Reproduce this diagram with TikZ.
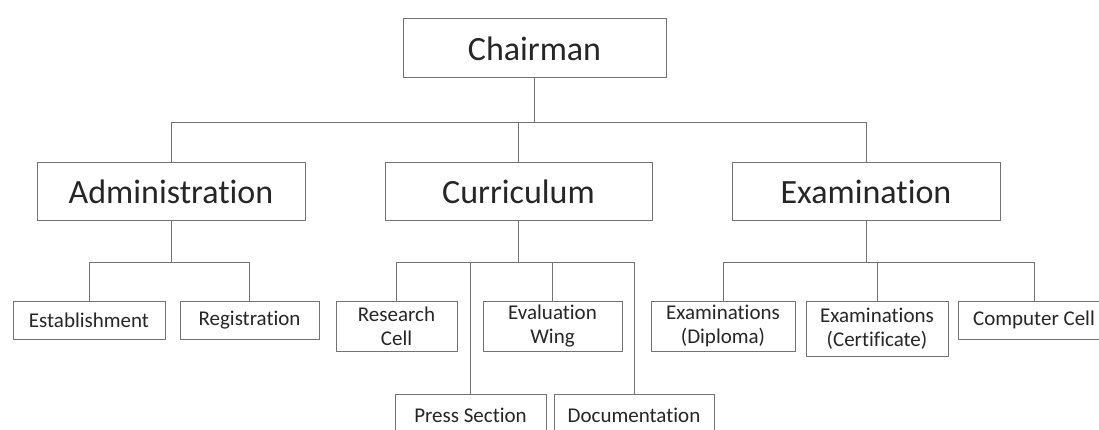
\documentclass[tikz,border=0pt]{standalone}
\usepackage{fontspec}
\setmainfont{Carlito}[Ligatures={NoCommon,NoRequired,NoContextual}]
\definecolor{linegray}{gray}{0.45}
\definecolor{textgray}{gray}{0.15}
\tikzset{
  unit/.style={draw=linegray, line width=1pt, rectangle, inner sep=0pt,
    text=textgray, align=center},
  bigunit/.style={unit, font=\fontsize{34}{40}\selectfont, minimum height=58pt},
  smallunit/.style={unit, font=\fontsize{21}{24}\selectfont},
  link/.style={draw=linegray, line width=1pt}
}
\begin{document}
\begin{tikzpicture}[x=1pt,y=-1pt]
\useasboundingbox (0,0) rectangle (1099,430);
\clip (0,0) rectangle (1099,430);
\fill[white] (0,0) rectangle (1099,430);

% top level
\node[bigunit, minimum width=263pt, minimum height=59pt] (chair) at (534.5,48.5) {Chairman};

% departments
\node[bigunit, minimum width=268pt] (admin) at (171,192) {Administration};
\node[bigunit, minimum width=267pt] (curr) at (518.5,192) {Curriculum};
\node[bigunit, minimum width=268pt] (exam) at (866,192) {Examination};

% sections under Administration
\node[smallunit, minimum width=152pt, minimum height=38pt] (estab) at (89,320) {Establishment};
\node[smallunit, minimum width=139pt, minimum height=38pt] (reg) at (249.5,320) {Registration};

% sections under Curriculum
\node[smallunit, minimum width=121pt, minimum height=50pt] (research) at (396.5,326) {Research\\Cell};
\node[smallunit, minimum width=139pt, minimum height=50pt] (eval) at (552.5,326) {Evaluation\\Wing};
\node[smallunit, minimum width=151pt, minimum height=42pt] (press) at (470.5,415) {Press Section};
\node[smallunit, minimum width=160pt, minimum height=42pt] (doc) at (634,415) {Documentation};

% sections under Examination
\node[smallunit, minimum width=144pt, minimum height=50pt] (dipl) at (723,326) {Examinations\\(Diploma)};
\node[smallunit, minimum width=142pt, minimum height=55pt] (cert) at (877,328.5) {Examinations\\(Certificate)};
\node[smallunit, minimum width=152pt, minimum height=38pt] (comp) at (1034,320) {Computer Cell};

% connectors
\draw[link] (chair.south) -- ++(0,44) -| (admin.north);
\draw[link] (chair.south) -- ++(0,44) -| (curr.north);
\draw[link] (chair.south) -- ++(0,44) -| (exam.north);

\draw[link] (admin.south) -- ++(0,41) -| (estab.north);
\draw[link] (admin.south) -- ++(0,41) -| (reg.north);

\draw[link] (curr.south) -- ++(0,41) -| (research.north);
\draw[link] (curr.south) -- ++(0,41) -| (press.north);
\draw[link] (curr.south) -- ++(0,41) -| (eval.north);
\draw[link] (curr.south) -- ++(0,41) -| (doc.north);

\draw[link] (exam.south) -- ++(0,41) -| (dipl.north);
\draw[link] (exam.south) -- ++(0,41) -| (cert.north);
\draw[link] (exam.south) -- ++(0,41) -| (comp.north);
\end{tikzpicture}
\end{document}
